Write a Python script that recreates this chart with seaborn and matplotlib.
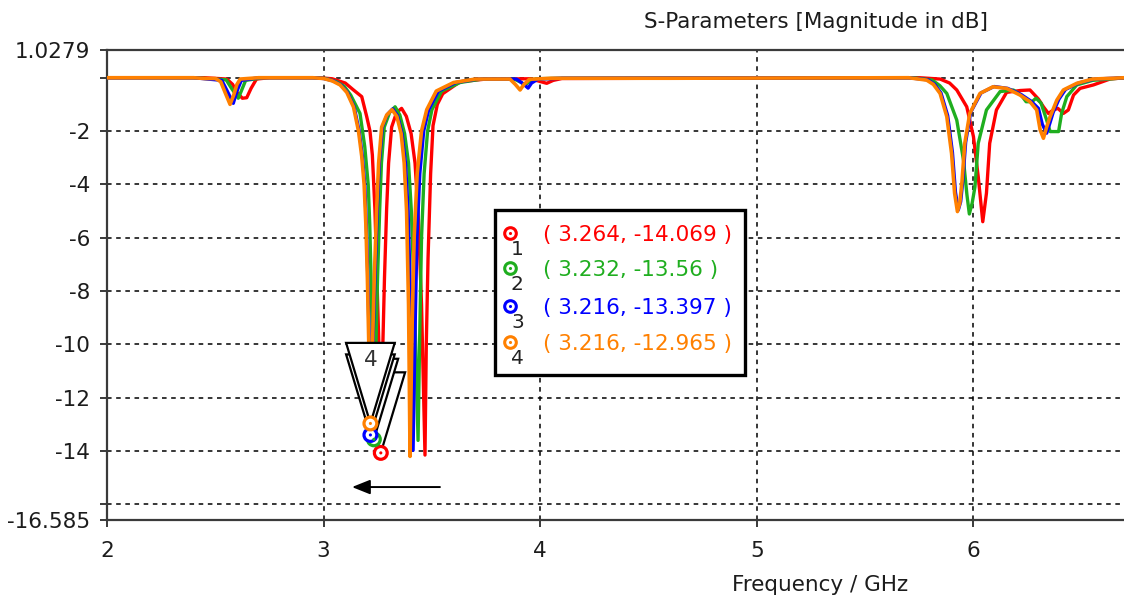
import matplotlib
matplotlib.use("Agg")
import matplotlib.pyplot as plt
import matplotlib.transforms as mtransforms
from matplotlib.patches import Polygon, Rectangle
import pandas as pd
import seaborn as sns

# ---------------- data ----------------
red_f = [2.00, 2.45, 2.553, 2.58, 2.60, 2.625, 2.645, 2.665, 2.69, 2.75, 2.98, 3.04, 3.10, 3.138,
         3.176, 3.199, 3.214, 3.225, 3.237, 3.246, 3.255, 3.264, 3.272, 3.281, 3.291, 3.30, 3.314,
         3.337, 3.360, 3.382, 3.404, 3.422, 3.436, 3.452, 3.468, 3.474, 3.482, 3.494, 3.505, 3.525,
         3.55, 3.63, 3.75, 3.95, 3.99, 4.03, 4.06, 4.10, 5.75, 5.846, 5.89, 5.923, 5.969, 6.0, 6.022,
         6.043, 6.06, 6.075, 6.106, 6.153, 6.215, 6.261, 6.30, 6.323, 6.346, 6.369, 6.39, 6.415,
         6.438, 6.462, 6.492, 6.554, 6.63, 6.70]
red_db = [0, 0, -0.05, -0.25, -0.55, -0.77, -0.75, -0.40, -0.05, 0, 0, -0.04, -0.20, -0.46,
          -0.71, -1.46, -2.0, -2.9, -4.96, -7.5, -10.0, -14.069, -10.5, -7.5, -4.9, -3.2, -1.85,
          -1.30, -1.15, -1.45, -2.10, -3.20, -5.00, -8.50, -14.15, -10.0, -6.8, -3.6, -1.8, -1.0,
          -0.60, -0.15, -0.05, -0.04, -0.12, -0.21, -0.10, -0.03, 0, -0.05, -0.20, -0.46, -1.09, -2.21, -3.71,
          -5.40, -4.33, -2.46, -1.21, -0.55, -0.48, -0.46, -0.80, -1.09, -1.34, -1.21, -1.15, -1.34,
          -1.21, -0.65, -0.40, -0.27, -0.05, 0]

green_f = [2.00, 2.40, 2.55, 2.575, 2.606, 2.620, 2.640, 2.72, 2.95, 3.01, 3.06, 3.095, 3.125,
           3.168, 3.19, 3.206, 3.213, 3.219, 3.225, 3.232, 3.240, 3.249, 3.259, 3.267, 3.28, 3.305,
           3.330, 3.352, 3.374, 3.392, 3.405, 3.420, 3.436, 3.444, 3.452, 3.464, 3.48, 3.50, 3.545,
           3.63, 3.73, 3.88, 3.91, 3.93, 3.95, 3.98, 4.10, 5.72, 5.81, 5.845, 5.877, 5.923, 5.954,
           5.970, 5.981, 5.994, 6.007, 6.022, 6.06, 6.123, 6.184, 6.22, 6.243, 6.27, 6.289, 6.312,
           6.338, 6.354, 6.393, 6.407, 6.431, 6.477, 6.55, 6.70]
green_db = [0, 0, -0.08, -0.40, -0.77, -0.50, -0.10, 0, 0, -0.03, -0.15, -0.32, -0.65,
            -1.34, -2.59, -4.02, -5.5, -7.5, -9.8, -13.56, -10.5, -7.5, -4.9, -3.2, -1.85, -1.30,
            -1.09, -1.40, -2.10, -3.20, -5.00, -8.50, -13.60, -9.5, -6.0, -3.6, -2.0, -1.2, -0.5,
            -0.18, -0.05, -0.05, -0.17, -0.27, -0.15, -0.04, -0.02, 0, -0.09, -0.30, -0.59, -1.59, -3.09,
            -4.40, -5.11, -4.70, -4.09, -2.46, -1.21, -0.52, -0.46, -0.65, -0.90, -0.90, -0.77, -0.95,
            -1.59, -2.02, -2.02, -1.34, -0.71, -0.27, -0.10, 0]

blue_f = [2.00, 2.40, 2.53, 2.555, 2.583, 2.600, 2.620, 2.70, 2.95, 3.00, 3.045, 3.08, 3.11,
          3.141, 3.164, 3.179, 3.19, 3.197, 3.204, 3.210, 3.216, 3.226, 3.237, 3.248, 3.257, 3.271,
          3.294, 3.319, 3.341, 3.362, 3.378, 3.39, 3.402, 3.413, 3.422, 3.431, 3.444, 3.462, 3.485,
          3.53, 3.61, 3.71, 3.89, 3.92, 3.944, 3.96, 3.99, 4.10, 5.70, 5.79, 5.82, 5.85, 5.881,
          5.903, 5.917, 5.930, 5.941, 5.951, 5.964, 5.987, 6.035, 6.095, 6.158, 6.22, 6.266, 6.30,
          6.318, 6.338, 6.353, 6.368, 6.395, 6.425, 6.485, 6.56, 6.70]
blue_db = [0, 0, -0.10, -0.50, -0.96, -0.50, -0.10, 0, 0, -0.03, -0.12, -0.27, -0.55,
           -1.10, -2.00, -2.95, -4.00, -5.50, -7.50, -9.80, -13.397, -10.5, -7.5, -4.9, -3.2, -1.85,
           -1.38, -1.17, -1.42, -2.10, -3.20, -5.00, -8.50, -13.97, -9.5, -6.0, -3.6, -2.0, -1.2,
           -0.50, -0.18, -0.05, -0.05, -0.22, -0.39, -0.20, -0.05, -0.02, 0, -0.08, -0.24, -0.57, -1.42,
           -2.80, -4.30, -4.96, -4.65, -3.85, -2.42, -1.30, -0.57, -0.33, -0.40, -0.63, -0.88, -1.15,
           -1.75, -2.08, -1.70, -1.30, -0.80, -0.44, -0.20, -0.05, 0]

orange_f = [2.00, 2.40, 2.45, 2.50, 2.525, 2.545, 2.568, 2.585, 2.600, 2.615, 2.70, 2.95, 3.00,
            3.04, 3.076, 3.107, 3.138, 3.161, 3.176, 3.187, 3.195, 3.202, 3.208, 3.216, 3.224,
            3.234, 3.245, 3.254, 3.268, 3.291, 3.316, 3.338, 3.358, 3.372, 3.383, 3.392, 3.399,
            3.408, 3.418, 3.432, 3.452, 3.476, 3.52, 3.60, 3.70, 3.86, 3.885, 3.907, 3.925, 3.95,
            4.05, 4.60, 5.70, 5.784, 5.815, 5.846, 5.877, 5.899, 5.913, 5.926, 5.937, 5.947, 5.960,
            5.983, 6.03, 6.09, 6.153, 6.215, 6.261, 6.292, 6.308, 6.323, 6.338, 6.354, 6.385, 6.415,
            6.477, 6.55, 6.70]
orange_db = [0, 0, -0.03, -0.03, -0.15, -0.55, -1.00, -0.65, -0.25, -0.05, 0, 0, -0.03,
             -0.12, -0.27, -0.55, -1.10, -2.00, -2.95, -4.00, -5.50, -7.50, -9.80, -12.965, -10.5,
             -7.5, -4.9, -3.2, -1.85, -1.40, -1.20, -1.45, -2.10, -3.20, -5.00, -8.50, -14.20,
             -9.5, -6.0, -3.6, -2.0, -1.2, -0.5, -0.18, -0.05, -0.05, -0.25, -0.46, -0.25, -0.06,
             -0.02, -0.02, 0, -0.09, -0.25, -0.59, -1.46, -2.84, -4.33, -5.02, -4.70, -3.90, -2.46,
             -1.34, -0.59, -0.34, -0.40, -0.65, -0.90, -1.21, -1.96, -2.27, -1.85, -1.46, -0.84, -0.46,
             -0.21, -0.05, 0]

marker_ids = ["1", "2", "3", "4"]
marker_freq = [3.264, 3.232, 3.216, 3.216]
marker_db = [-14.069, -13.56, -13.397, -12.965]

x_ticks = [2, 3, 4, 5, 6]
x_ticklabels = ["2", "3", "4", "5", "6"]
y_ticks = [1.0279, 0, -2, -4, -6, -8, -10, -12, -14, -16, -16.585]
y_ticklabels = ["1.0279", "", "-2", "-4", "-6", "-8", "-10", "-12", "-14", "", "-16.585"]
x_limits = (2.0, 6.695)
y_limits = (-16.585, 1.0279)

arrow_tail = (3.537, -15.35)
arrow_head = (3.131, -15.35)

title_text = "S-Parameters [Magnitude in dB]"
xlabel_text = "Frequency / GHz"

# ---------------- style ----------------
RED, GREEN, BLUE, ORANGE = "#ff0000", "#1fae1f", "#0000ff", "#ff8000"
marker_colors = [RED, GREEN, BLUE, ORANGE]

sns.set_theme(style="white")
plt.rcParams["font.family"] = ["DejaVu Sans"]
FS = 15.5
TXT = "#1c1c1c"

fig = plt.figure(figsize=(11.24, 6.01), dpi=100)
ax = fig.add_axes([0.0952, 0.1348, 0.9048, 0.7815])

curves = [
    ("1", red_f, red_db, RED, 2.4),
    ("2", green_f, green_db, GREEN, 2.4),
    ("3", blue_f, blue_db, BLUE, 2.4),
    ("4", orange_f, orange_db, ORANGE, 2.6),
]
for name, fx, dbv, col, lw in curves:
    df = pd.DataFrame({"f": fx, "db": dbv})
    sns.lineplot(data=df, x="f", y="db", ax=ax, color=col, linewidth=lw,
                 estimator=None, sort=False, legend=False, zorder=3)

ax.set_xlim(*x_limits)
ax.set_ylim(*y_limits)
ax.set_xticks(x_ticks)
ax.set_xticklabels(x_ticklabels)
ax.set_yticks(y_ticks)
ax.set_yticklabels(y_ticklabels)
ax.set_xlabel("")
ax.set_ylabel("")
ax.tick_params(axis="both", which="major", labelsize=FS, labelcolor=TXT, color="#3a3a3a",
               direction="out", length=5, width=1.4)
ax.tick_params(axis="y", pad=7, left=True)
ax.tick_params(axis="x", pad=10, bottom=True)
ax.grid(True, color="black", linestyle=(0, (3, 3)), linewidth=1.1, zorder=1)
ax.set_axisbelow(True)

for side in ["left", "bottom", "top"]:
    ax.spines[side].set_visible(True)
    ax.spines[side].set_color("#3a3a3a")
    ax.spines[side].set_linewidth(1.6)
ax.spines["right"].set_visible(False)

# ---------------- marker callout triangles (marker 4 drawn on top) ----------------
dpi = fig.dpi
for i in range(4):
    trans = (mtransforms.Affine2D().scale(dpi / 72.0)
             + mtransforms.ScaledTranslation(marker_freq[i], marker_db[i], ax.transData))
    tri = Polygon([(0, 0), (-17.5, 58), (17.5, 58)], closed=True, facecolor="white",
                  edgecolor="black", linewidth=1.6, transform=trans, zorder=10 + i,
                  clip_on=False)
    ax.add_patch(tri)
    if i == 3:
        ax.text(0, 46, marker_ids[i], transform=trans, ha="center", va="center",
                fontsize=FS, color="#333333", zorder=10.5 + i)

# markers
ax.scatter(marker_freq, marker_db, s=85, facecolors="white", edgecolors=marker_colors,
           linewidths=2.3, zorder=30)
ax.scatter(marker_freq, marker_db, s=5, c=marker_colors, linewidths=0, zorder=31)

# ---------------- marker value box ----------------
box = Rectangle((0.3815, 0.3087), 0.2455, 0.3513, transform=ax.transAxes, facecolor="white",
                edgecolor="black", linewidth=2.4, zorder=40)
ax.add_patch(box)
row_y = [0.6114, 0.5369, 0.4563, 0.3797]
for i in range(4):
    ax.scatter([0.3963], [row_y[i]], s=70, facecolors="white", edgecolors=marker_colors[i],
               linewidths=2.2, transform=ax.transAxes, zorder=41)
    ax.scatter([0.3963], [row_y[i]], s=5, c=marker_colors[i], linewidths=0,
               transform=ax.transAxes, zorder=42)
    ax.text(0.4035, row_y[i] - 0.036, marker_ids[i], transform=ax.transAxes, ha="center",
            va="center", fontsize=FS - 1, color="#222222", zorder=42)
    ax.text(0.4287, row_y[i] - 0.004, f"( {marker_freq[i]}, {marker_db[i]} )",
            transform=ax.transAxes, ha="left", va="center", fontsize=FS,
            color=marker_colors[i], zorder=42)

# ---------------- arrow ----------------
ax.annotate("", xy=arrow_head, xytext=arrow_tail,
            arrowprops=dict(arrowstyle="-|>,head_length=0.55,head_width=0.22", color="black",
                            lw=1.4, shrinkA=0, shrinkB=0, mutation_scale=20),
            zorder=20)

# ---------------- titles ----------------
fig.text(0.726, 0.963, title_text, ha="center", va="center", fontsize=FS, color=TXT)
fig.text(0.7295, 0.026, xlabel_text, ha="center", va="center", fontsize=FS, color=TXT)

fig.savefig("out.png", dpi=100)
